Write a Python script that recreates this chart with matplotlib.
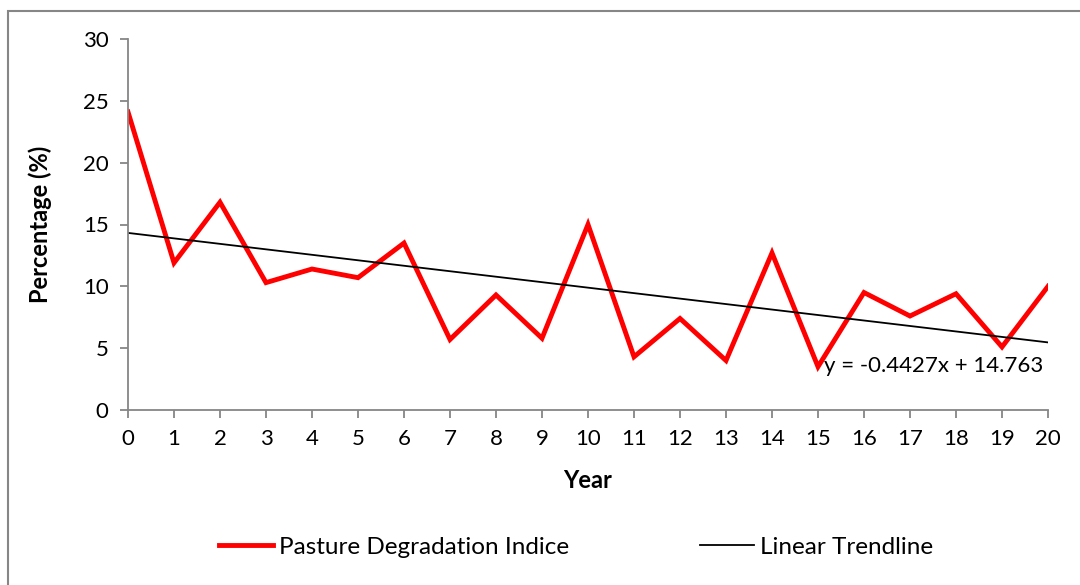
import matplotlib
matplotlib.use("Agg")
import numpy as np
import matplotlib.pyplot as plt
from matplotlib.patches import Rectangle

# --- data ---
years = list(range(0, 21))
pdi = [24.1, 11.9, 16.8, 10.3, 11.4, 10.7, 13.5, 5.7, 9.3, 5.8, 15.0,
       4.3, 7.4, 4.0, 12.7, 3.5, 9.5, 7.6, 9.4, 5.1, 10.0]
trend_slope = -0.4427
trend_intercept = 14.763
y_ticks = [0, 5, 10, 15, 20, 25, 30]

plt.rcParams["font.family"] = ["Lato", "DejaVu Sans"]
AXIS_GREY = "#868686"
FS = 16

fig = plt.figure(figsize=(10.8, 5.85), dpi=100)
ax = fig.add_axes([128 / 1080, 1 - 410 / 585, 920 / 1080, 371 / 585])

# chart-area border (right/bottom edges fall outside the image)
fig.patches.append(Rectangle((8 / 1080, -0.05), 1.2, 1 - 10.5 / 585 + 0.05,
                             transform=fig.transFigure, fill=False,
                             edgecolor=AXIS_GREY, lw=1.5))

x = np.array(years)
# Excel trendline uses 1-based point index
trend = trend_slope * (x + 1) + trend_intercept

ax.plot(years, pdi, color="#ff0000", lw=3.5, solid_joinstyle="miter",
        label="Pasture Degradation Indice")
ax.plot(years, trend, color="black", lw=1.3, label="Linear Trendline")

fig.text(1043 / 1080, 1 - 366 / 585, f"y = {trend_slope}x + {trend_intercept}",
         fontsize=FS, va="center", ha="right")

ax.set_xlim(0, 20)
ax.set_ylim(0, 30)
ax.set_xticks(years)
ax.set_yticks(y_ticks)
for s in ["top", "right"]:
    ax.spines[s].set_visible(False)
for s in ["left", "bottom"]:
    ax.spines[s].set_color(AXIS_GREY)
    ax.spines[s].set_linewidth(1.3)
ax.tick_params(colors=AXIS_GREY, labelcolor="black", labelsize=FS,
               length=6, width=1.3, direction="out")
ax.tick_params(axis="y", pad=8)
ax.tick_params(axis="x", pad=8)

ax.set_xlabel("Year", fontsize=FS + 1, fontweight="bold", labelpad=14)
ax.set_ylabel("Percentage (%)", fontsize=FS + 1, fontweight="bold", labelpad=22)

fig.legend(loc="center", bbox_to_anchor=(576 / 1080, 1 - 547 / 585), ncol=2,
           frameon=False, fontsize=17.5, handlelength=2.2, handletextpad=0.25,
           columnspacing=5.4)

fig.savefig("out.png", dpi=100)
